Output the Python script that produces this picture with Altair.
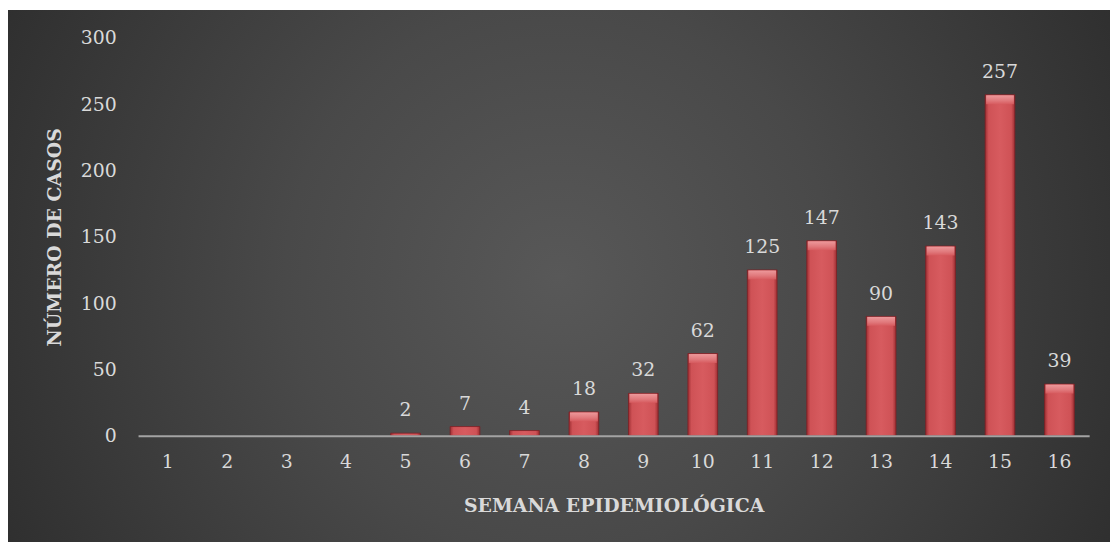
import altair as alt
import pandas as pd

weeks = [1, 2, 3, 4, 5, 6, 7, 8, 9, 10, 11, 12, 13, 14, 15, 16]
cases = [0, 0, 0, 0, 2, 7, 4, 18, 32, 62, 125, 147, 90, 143, 257, 39]
y_ticks = [0, 50, 100, 150, 200, 250, 300]

x_title = "SEMANA EPIDEMIOLÓGICA"
y_title = "NÚMERO DE CASOS"

df = pd.DataFrame({"semana": weeks, "casos": cases})

W, H = 958, 401
PAD = {"left": 131, "top": 28, "right": 21, "bottom": 107}
FONT = "DejaVu Serif"
TXT = "#d9d9d9"
FS = 19

bg = alt.Chart(alt.Data(values=[{"k": 1}])).mark_rect(
    fill=alt.RadialGradient(
        gradient="radial",
        stops=[
            alt.GradientStop(color="#585858", offset=0),
            alt.GradientStop(color="#494949", offset=0.4),
            alt.GradientStop(color="#2a2a2a", offset=1),
        ],
        x1=0.5, y1=0.5, r1=0, x2=0.5, y2=0.5, r2=0.62,
    ),
    clip=False,
).encode(
    x=alt.value(-PAD["left"]),
    x2=alt.value(W + PAD["right"]),
    y=alt.value(-PAD["top"]),
    y2=alt.value(H + PAD["bottom"]),
)

xscale = alt.Scale(domain=weeks, paddingInner=0.5, paddingOuter=0.25)
yscale = alt.Scale(domain=[0, 300], nice=False)

common = dict(
    zindex=1,
    labelFont=FONT,
    labelFontSize=FS,
    labelColor=TXT,
    titleFont=FONT,
    titleFontSize=FS,
    titleFontWeight="bold",
    titleColor=TXT,
    grid=False,
    ticks=False,
)

xenc = alt.X(
    "semana:O",
    scale=xscale,
    axis=alt.Axis(
        title=x_title,
        labelAngle=0,
        domain=True,
        domainColor="#a3a3a3",
        domainWidth=2,
        labelPadding=17,
        titleY=76,
        titleBaseline="alphabetic",
        **common,
    ),
)
yenc = alt.Y(
    "casos:Q",
    scale=yscale,
    axis=alt.Axis(
        title=y_title,
        values=y_ticks,
        domain=False,
        labelPadding=22,
        titleX=-84,
        titleY=H / 2,
        titleAngle=-90,
        titleAlign="center",
        titleBaseline="middle",
        **common,
    ),
)

bars = alt.Chart(df).transform_filter("datum.casos > 0").mark_bar(
    fill=alt.LinearGradient(
        gradient="linear",
        stops=[
            alt.GradientStop(color="#9e2e32", offset=0),
            alt.GradientStop(color="#cf5256", offset=0.12),
            alt.GradientStop(color="#d75b5f", offset=0.5),
            alt.GradientStop(color="#cf5256", offset=0.88),
            alt.GradientStop(color="#9e2e32", offset=1),
        ],
        x1=0, x2=1, y1=0, y2=0,
    ),
    stroke="#7e2024",
    strokeWidth=0.8,
).encode(x=xenc, y=yenc)

bevel = alt.Chart(df).transform_filter("datum.casos >= 15").mark_tick(
    orient="horizontal",
    size=28,
    thickness=9,
    yOffset=5,
    fill=alt.LinearGradient(
        gradient="linear",
        stops=[
            alt.GradientStop(color="#f0a0a2", offset=0),
            alt.GradientStop(color="#e27c7f", offset=0.6),
            alt.GradientStop(color="#d75b5f", offset=1),
        ],
        x1=0, x2=0, y1=0, y2=1,
    ),
    opacity=0.9,
).encode(x=alt.X("semana:O", scale=xscale), y=alt.Y("casos:Q", scale=yscale))

labels = alt.Chart(df).transform_filter("datum.casos > 0").mark_text(
    font=FONT,
    fontSize=FS,
    color=TXT,
    baseline="alphabetic",
    dy=-17,
).encode(x=alt.X("semana:O", scale=xscale), y=alt.Y("casos:Q", scale=yscale), text="casos:Q")

chart = alt.layer(bg, bars, bevel, labels).properties(
    width=W,
    height=H,
    padding=PAD,
    autosize=alt.AutoSizeParams(type="none"),
    background="white",
).configure_view(
    stroke=None,
)

chart.save("out.html", embed_options={"renderer": "svg", "actions": False})
